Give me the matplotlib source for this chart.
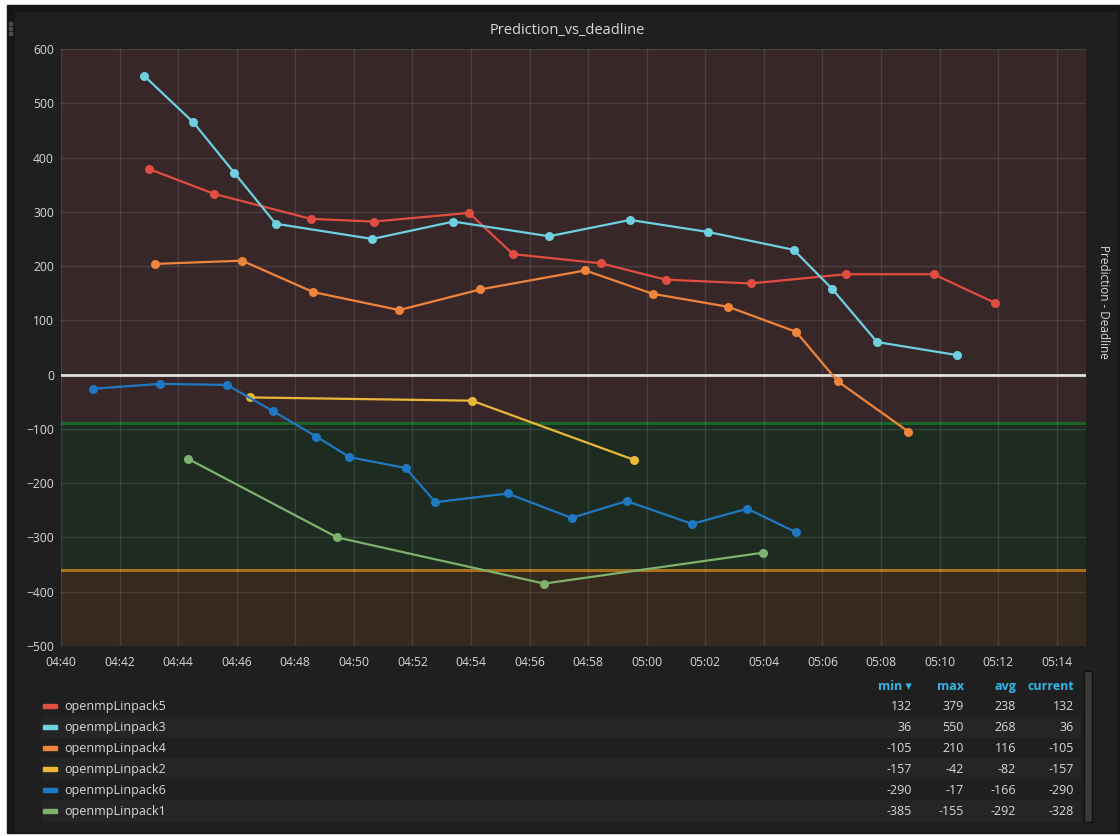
import matplotlib
matplotlib.use("Agg")
import matplotlib.pyplot as plt
import matplotlib.dates as mdates
from matplotlib.patches import Rectangle
import datetime as dt

plt.rcParams['font.family'] = ['Open Sans', 'DejaVu Sans']

# ---------------- data ----------------
DAY = "2018-01-01 "
series_names = ["openmpLinpack5", "openmpLinpack3", "openmpLinpack4",
                "openmpLinpack2", "openmpLinpack6", "openmpLinpack1"]
series_colors = ["#E24D42", "#6ED0E0", "#EF843C", "#EAB839", "#1F78C1", "#7EB26D"]

lp5_times = ["04:43:00", "04:45:14", "04:48:32", "04:50:41", "04:53:56", "04:55:26",
             "04:58:27", "05:00:39", "05:03:33", "05:06:48", "05:09:48", "05:11:54"]
lp5_values = [379, 333, 287, 282, 298, 222, 205, 175, 168, 185, 185, 132]

lp3_times = ["04:42:51", "04:44:31", "04:45:55", "04:47:20", "04:50:38", "04:53:24",
             "04:56:40", "04:59:26", "05:02:05", "05:05:01", "05:06:20", "05:07:52",
             "05:10:36"]
lp3_values = [550, 465, 372, 278, 250, 282, 255, 285, 263, 230, 158, 60, 36]

lp4_times = ["04:43:13", "04:46:11", "04:48:37", "04:51:33", "04:54:19", "04:57:54",
             "05:00:12", "05:02:47", "05:05:06", "05:06:31", "05:08:56"]
lp4_values = [204, 210, 152, 119, 157, 192, 149, 125, 79, -12, -105]

lp2_times = ["04:46:28", "04:54:02", "04:59:34"]
lp2_values = [-42, -48, -157]

lp6_times = ["04:41:05", "04:43:23", "04:45:40", "04:47:14", "04:48:43", "04:49:51",
             "04:51:46", "04:52:47", "04:55:15", "04:57:26", "04:59:19", "05:01:33",
             "05:03:26", "05:05:05"]
lp6_values = [-26, -17, -19, -67, -114, -152, -172, -235, -219, -264, -233, -275,
              -247, -290]

lp1_times = ["04:44:20", "04:49:26", "04:56:30", "05:03:59"]
lp1_values = [-155, -300, -385, -328]

series_times = [lp5_times, lp3_times, lp4_times, lp2_times, lp6_times, lp1_times]
series_values = [lp5_values, lp3_values, lp4_values, lp2_values, lp6_values, lp1_values]

# legend table stats (min, max, avg, current)
stat_headers = ["min \u25be", "max", "avg", "current"]
stat_min = [132, 36, -105, -157, -290, -385]
stat_max = [379, 550, 210, -42, -17, -155]
stat_avg = [238, 268, 116, -82, -166, -292]
stat_cur = [132, 36, -105, -157, -290, -328]

threshold_warn = -90
threshold_crit = -360
y_min, y_max = -500, 600
x_start, x_end = "04:40:00", "05:15:00"
title = "Prediction_vs_deadline"
right_label = "Prediction - Deadline"

# ---------------- figure ----------------
W, H = 1120, 836
fig = plt.figure(figsize=(W / 100, H / 100), dpi=100)
fig.patch.set_facecolor("#ffffff")


def fx(px):
    return px / W


def fy(py):
    return 1 - py / H


def frect(x, y, w, h, z, **kw):
    r = Rectangle((fx(x), fy(y + h)), w / W, h / H, transform=fig.transFigure,
                  zorder=z, **kw)
    fig.patches.append(r)
    return r


# outer dark area and panel
frect(7, 5, 1113, 828, -10, color="#161617")
frect(15, 12, 1102, 819, -9, color="#1f1f20")
# drag handle dots
for yy in (22, 27, 32):
    frect(9, yy, 3, 3, -8, color="#4a4a4a")

ax_l, ax_r, ax_t, ax_b = 61, 1086, 49, 646
ax = fig.add_axes([fx(ax_l), fy(ax_b), (ax_r - ax_l) / W, (ax_b - ax_t) / H])
ax.set_zorder(2)
ax.set_facecolor("#1f1f20")


def to_dt(s):
    return dt.datetime.strptime(DAY + s, "%Y-%m-%d %H:%M:%S")


x0, x1 = to_dt(x_start), to_dt(x_end)
ax.set_xlim(x0, x1)
ax.set_ylim(y_min, y_max)

# threshold regions
ax.axhspan(threshold_warn, y_max, color="#372728", zorder=0, lw=0)
ax.axhspan(threshold_crit, threshold_warn, color="#1d2b20", zorder=0, lw=0)
ax.axhspan(y_min, threshold_crit, color="#36291d", zorder=0, lw=0)
ax.axhline(threshold_warn, color="#1b6428", lw=2.2, zorder=1)
ax.axhline(threshold_crit, color="#a8701c", lw=2.2, zorder=1)

# grid
ax.xaxis.set_major_locator(mdates.MinuteLocator(byminute=range(0, 60, 2)))
ax.xaxis.set_major_formatter(mdates.DateFormatter("%H:%M"))
ax.set_yticks(range(y_min, y_max + 1, 100))
ax.grid(True, color="#ffffff", alpha=0.11, lw=1, zorder=1.5)

# zero line
ax.axhline(0, color="#e0e0e0", lw=2.0, zorder=2)

for name, col, ts, vs in zip(series_names, series_colors, series_times, series_values):
    ax.plot([to_dt(t) for t in ts], vs, color=col, lw=1.6, marker="o",
            markersize=6.5, markeredgewidth=0, zorder=3, label=name)

for sp in ax.spines.values():
    sp.set_visible(False)
ax.tick_params(colors="#d8d9da", labelsize=8.7, length=0)
ax.tick_params(axis="x", pad=7)
ax.tick_params(axis="y", pad=5)
for lab in ax.get_xticklabels() + ax.get_yticklabels():
    lab.set_color("#d8d9da")

# title
fig.text(fx(567), fy(29), title, color="#d8d9da", fontsize=10.5,
         ha="center", va="center_baseline")
# right axis label
fig.text(fx(1103), fy(302), right_label, color="#d8d9da", fontsize=8.5,
         rotation=270, ha="center", va="center")

# legend table
row_y = [705, 726, 747, 768, 789, 810]
for i, (name, col) in enumerate(zip(series_names, series_colors)):
    if i % 2 == 1:
        frect(42, row_y[i] - 10, 1038, 21, -5, color="#252526")
    frect(43, row_y[i] - 1, 14, 3.5, -4, color=col)
    fig.text(fx(64), fy(row_y[i]), name, color="#d8d9da", fontsize=9,
             ha="left", va="center_baseline")

col_right = [912, 964, 1016, 1074]
for hdr, cx in zip(stat_headers, col_right):
    fig.text(fx(cx), fy(685), hdr, color="#33b5e5", fontsize=9,
             fontweight="bold", ha="right", va="center_baseline")
for i in range(len(series_names)):
    for vals, cx in zip([stat_min, stat_max, stat_avg, stat_cur], col_right):
        fig.text(fx(cx), fy(row_y[i]), str(vals[i]), color="#d8d9da", fontsize=9,
                 ha="right", va="center_baseline")

# scrollbar
frect(1084, 671, 8, 151, -4, facecolor="#3a3a3a", edgecolor="#111111", lw=1)

fig.savefig("out.png", dpi=100, facecolor=fig.get_facecolor())
